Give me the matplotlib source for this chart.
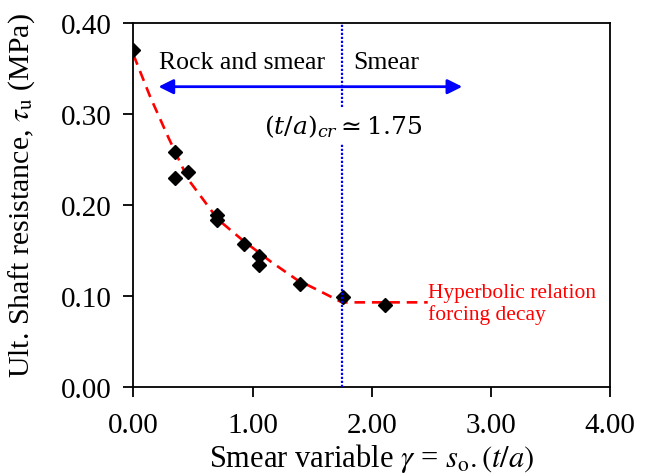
import matplotlib.pyplot as plt

plt.rcParams['font.family'] = ['Liberation Serif', 'DejaVu Serif']
plt.rcParams['mathtext.fontset'] = 'stix'

# measured points
smear_x = [0.00, 0.35, 0.35, 0.46, 0.70, 0.70, 0.93, 1.05, 1.05, 1.40, 1.76, 2.11]
tau_u = [0.370, 0.258, 0.230, 0.236, 0.189, 0.184, 0.157, 0.144, 0.134, 0.113, 0.099, 0.090]

# hyperbolic relation
fit_x = [0.00, 0.14, 0.29, 0.46, 0.71, 0.91, 1.15, 1.37, 1.57, 1.75, 2.47]
fit_y = [0.365, 0.319, 0.275, 0.228, 0.184, 0.162, 0.138, 0.118, 0.105, 0.093, 0.093]

x_ticks = [0.0, 1.0, 2.0, 3.0, 4.0]
y_ticks = [0.0, 0.1, 0.2, 0.3, 0.4]

ta_cr = 1.75
arrow_left, arrow_right, arrow_y = 0.21, 2.76, 0.330

fig = plt.figure(figsize=(6.48, 4.77), dpi=100)
ax = fig.add_axes([0.206, 0.1866, 0.7353, 0.7631])

ax.plot(fit_x, fit_y, color='red', lw=1.9, dashes=(4, 2.6), zorder=2)
ax.plot(smear_x, tau_u, 'D', color='black', markersize=7, zorder=3)
ax.axvline(ta_cr, color='blue', lw=1.6, ls=(0, (1, 0.8)), zorder=4)

ax.annotate('', xy=(arrow_left, arrow_y), xytext=(arrow_right, arrow_y),
            arrowprops=dict(arrowstyle='<|-|>', color='blue', lw=2,
                            mutation_scale=22, shrinkA=0, shrinkB=0),
            zorder=5)

ax.text(0.21, 0.351, 'Rock and smear', fontsize=18.5, va='baseline', ha='left')
ax.text(1.845, 0.351, 'Smear', fontsize=18.5, va='baseline', ha='left')
ax.text(1.76, 0.279, r'$(t/a)_{cr}\simeq 1.75$', fontsize=18, ha='center',
        va='baseline', zorder=6, math_fontfamily='dejavuserif',
        bbox=dict(facecolor='white', edgecolor='none', pad=3))
ax.text(2.475, 0.114, 'Hyperbolic relation\nforcing decay', color='red',
        fontsize=15.5, va='top', ha='left', linespacing=1.1)

ax.set_xlim(0, 4)
ax.set_ylim(0, 0.4)
ax.set_xticks(x_ticks)
ax.set_yticks(y_ticks)
ax.set_xticklabels([f'{v:.2f}' for v in x_ticks])
ax.set_yticklabels([f'{v:.2f}' for v in y_ticks])
ax.tick_params(direction='out', length=7, width=1.3, labelsize=21)
ax.tick_params(axis='x', pad=11)
ax.tick_params(axis='y', pad=9)
for s in ax.spines.values():
    s.set_linewidth(1.3)

ax.set_xlabel(r'Smear variable $\gamma$ = $s_{\rm o}.(t/a)$', fontsize=22)
ax.set_ylabel(r'Ult. Shaft resistance, $\tau_{\rm u}$ (MPa)', fontsize=21.5)
ax.xaxis.set_label_coords(0.5, -0.148)
ax.yaxis.set_label_coords(-0.2025, 0.53)

plt.savefig('out.png', dpi=100)
